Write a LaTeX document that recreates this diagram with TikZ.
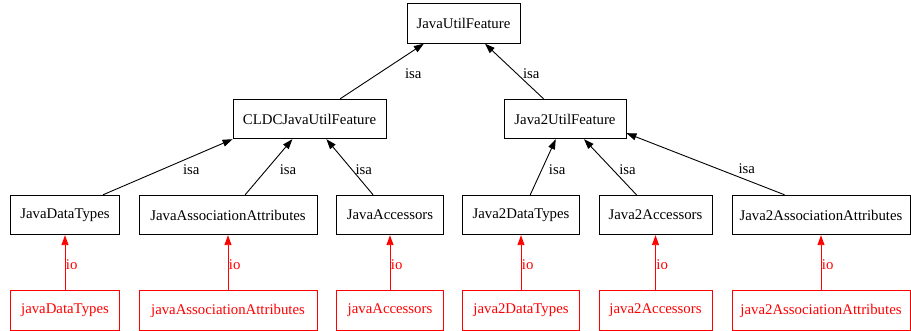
\documentclass[tikz,border=0pt]{standalone}
\usepackage{fontspec}
\setmainfont{Liberation Serif}
\usetikzlibrary{arrows.meta}

\begin{document}
\begin{tikzpicture}[x=1pt, y=-1pt, line width=0.9pt,
    feat/.style={draw, minimum height=39.5pt, inner sep=0pt, font=\fontsize{14.8}{18}\selectfont},
    impl/.style={feat, red},
    isa/.style={-{Triangle[length=10pt,width=7pt]}},
    io/.style={isa, red},
    lbl/.style={inner sep=0pt, font=\fontsize{14.8}{18}\selectfont}]
    \useasboundingbox (0,0) rectangle (911,331);

    % features
    \node[feat, minimum width=113pt] (juf)  at (463.5,23.5) {JavaUtilFeature};
    \node[feat, minimum width=153pt] (cldc) at (309.5,119)  {CLDCJavaUtilFeature};
    \node[feat, minimum width=122pt] (j2uf) at (565,119)    {Java2UtilFeature};

    \node[feat, minimum width=109pt] (jdt)  at (65,215)    {JavaDataTypes};
    \node[feat, minimum width=178pt] (jaa)  at (228,215)   {JavaAssociationAttributes};
    \node[feat, minimum width=107pt] (jac)  at (390,215)   {JavaAccessors};
    \node[feat, minimum width=117pt] (j2dt) at (521,215)   {Java2DataTypes};
    \node[feat, minimum width=113pt] (j2ac) at (655.5,215) {Java2Accessors};
    \node[feat, minimum width=178pt] (j2aa) at (821,215)   {Java2AssociationAttributes};

    % implementations
    \node[impl, minimum width=109pt] (jdt-io)  at (65,310.5)    {javaDataTypes};
    \node[impl, minimum width=178pt] (jaa-io)  at (228,310.5)   {javaAssociationAttributes};
    \node[impl, minimum width=107pt] (jac-io)  at (390,310.5)   {javaAccessors};
    \node[impl, minimum width=117pt] (j2dt-io) at (521,310.5)   {java2DataTypes};
    \node[impl, minimum width=113pt] (j2ac-io) at (655.5,310.5) {java2Accessors};
    \node[impl, minimum width=178pt] (j2aa-io) at (821,310.5)   {java2AssociationAttributes};

    \path[isa]
    (cldc)    edge node[lbl, pos=.46, right=26pt] {isa} (juf.-153)
    (j2uf)    edge node[lbl, pos=.46, right=6pt] {isa} (juf)
    (jdt.28)  edge node[lbl, pos=.46, right=20pt] {isa} (cldc.south west)
    (jaa)     edge node[lbl, pos=.46, right=12.5pt] {isa} (cldc)
    (jac)     edge node[lbl, pos=.46, right=3.5pt] {isa} (cldc)
    (j2dt)    edge node[lbl, pos=.46, right=6.5pt] {isa} (j2uf)
    (j2ac)    edge node[lbl, pos=.46, right=6.5pt] {isa} (j2uf)
    (j2aa.151) edge node[lbl, pos=.42, right=20pt] {isa} (j2uf.-13);

    \path[io]
    (jdt-io)  edge node[lbl, pos=.46, right=.5pt] {io} (jdt)
    (jaa-io)  edge node[lbl, pos=.46, right=.5pt] {io} (jaa)
    (jac-io)  edge node[lbl, pos=.46, right=.5pt] {io} (jac)
    (j2dt-io) edge node[lbl, pos=.46, right=.5pt] {io} (j2dt)
    (j2ac-io) edge node[lbl, pos=.46, right=.5pt] {io} (j2ac)
    (j2aa-io) edge node[lbl, pos=.46, right=.5pt] {io} (j2aa);
\end{tikzpicture}
\end{document}
